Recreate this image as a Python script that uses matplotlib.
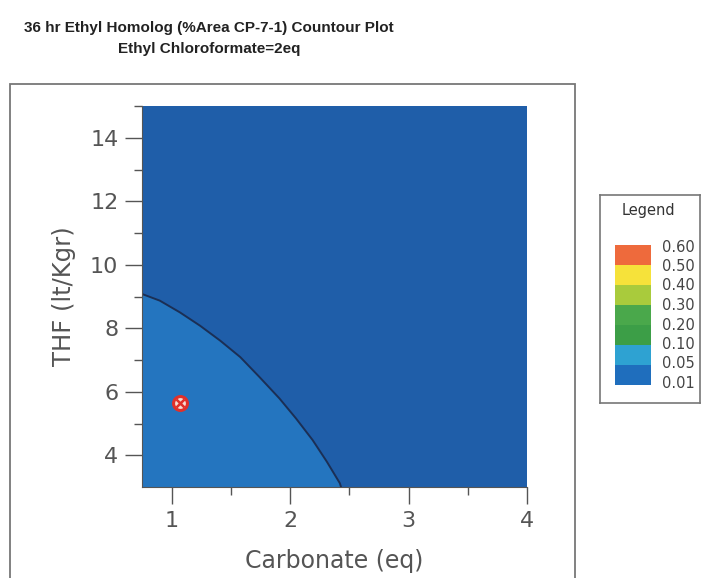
import matplotlib
matplotlib.use("Agg")
import matplotlib.pyplot as plt
from matplotlib.patches import Rectangle

# boundary of the 0.05 contour
contour_x = [0.75, 0.90, 1.07, 1.24, 1.41, 1.58, 1.74, 1.91, 2.05, 2.19, 2.31, 2.42, 2.43]
contour_y = [9.08, 8.87, 8.50, 8.08, 7.61, 7.09, 6.47, 5.79, 5.16, 4.48, 3.80, 3.12, 3.00]

# design point
point_x = [1.07]
point_y = [5.63]

x_ticks = [1, 2, 3, 4]
y_ticks = [4, 6, 8, 10, 12, 14]

legend_levels = ["0.60", "0.50", "0.40", "0.30", "0.20", "0.10", "0.05", "0.01"]
legend_colors = ["#ee6a3c", "#f6e23a", "#a9cb3c", "#4aa84b", "#3c9e47", "#2ea2d2", "#1f6ebd"]

dark_blue = "#1f5ea9"
light_blue = "#2475bf"

fig = plt.figure(figsize=(7.03, 5.78), dpi=100)

# outer frame
fig.patches.append(Rectangle((10 / 703, -0.02), 565 / 703, (578 - 84) / 578 + 0.02,
                             transform=fig.transFigure, fill=False,
                             edgecolor="#777777", linewidth=1.3))

title_font = "Liberation Sans"
fig.text(209 / 703, 1 - 28 / 578, "36 hr Ethyl Homolog (%Area CP-7-1) Countour Plot",
         ha="center", va="center", fontsize=11, fontweight="bold",
         family=title_font, color="#222222")
fig.text(209 / 703, 1 - 49 / 578, "Ethyl Chloroformate=2eq",
         ha="center", va="center", fontsize=11, fontweight="bold",
         family=title_font, color="#222222")

ax = fig.add_axes([142 / 703, (578 - 487) / 578, 385 / 703, 381 / 578])
ax.set_facecolor(dark_blue)
ax.fill_between(contour_x, 3, contour_y, color=light_blue, linewidth=0)
ax.plot(contour_x, contour_y, color="#1b2f55", linewidth=1.4)

ax.plot(point_x, point_y, "o", markersize=10, markerfacecolor="#f6dcd4",
        markeredgecolor="#e0302a", markeredgewidth=2.2)
ax.plot(point_x, point_y, "x", markersize=6, color="#e0302a", markeredgewidth=1.8)

ax.set_xlim(0.75, 4)
ax.set_ylim(3, 15)
ax.set_xticks(x_ticks)
ax.set_yticks(y_ticks)
ax.set_xticks([1.5, 2.5, 3.5], minor=True)
ax.set_yticks([5, 7, 9, 11, 13, 15], minor=True)
for s in ("top", "right"):
    ax.spines[s].set_visible(False)
for s in ("left", "bottom"):
    ax.spines[s].set_color("#555555")
ax.tick_params(which="major", length=12, width=1, color="#555555",
               labelsize=16, labelcolor="#555555", pad=5)
ax.tick_params(which="minor", length=6, width=1, color="#555555")
ax.set_xlabel("Carbonate (eq)", fontsize=17, color="#555555", labelpad=13)
ax.set_ylabel("THF (lt/Kgr)", fontsize=17.5, color="#555555", labelpad=10)

# legend panel
lax = fig.add_axes([600 / 703, (578 - 403) / 578, 100 / 703, 208 / 578])
lax.set_xlim(0, 100)
lax.set_ylim(208, 0)
lax.set_xticks([])
lax.set_yticks([])
for s in lax.spines.values():
    s.set_color("#777777")
    s.set_linewidth(1.2)
lax.text(48, 16, "Legend", ha="center", va="center", fontsize=10.5, color="#333333")
for i, c in enumerate(legend_colors):
    lax.bar(33, 20, width=36, bottom=50 + 20 * i, color=c, linewidth=0)
for i, lv in enumerate(legend_levels):
    lax.text(62, 52 + 19.5 * i, lv, ha="left", va="center", fontsize=10.5,
             color="#444444", family="DejaVu Sans Condensed")

fig.savefig("out.png", dpi=100)
